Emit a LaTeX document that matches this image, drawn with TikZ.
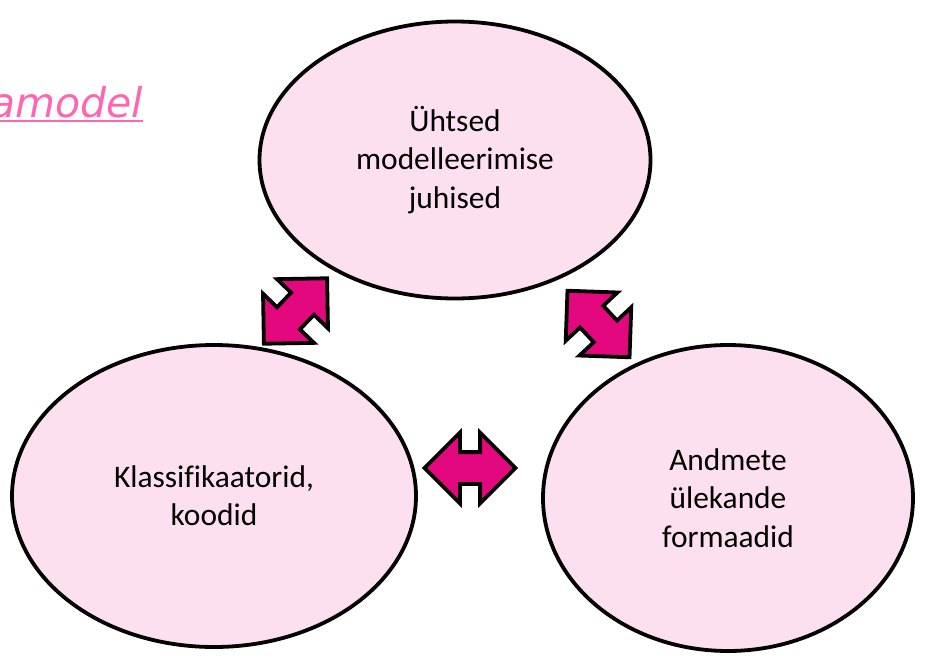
\documentclass[tikz,border=0pt]{standalone}
\usepackage{fontspec}
\setmainfont[Ligatures=NoCommon]{Carlito}
\newfontfamily\linkfont{DejaVu Sans}
\usetikzlibrary{shapes.geometric,shapes.arrows}
\definecolor{ovalpink}{HTML}{FDE0EF}
\definecolor{arrowpink}{HTML}{E4087F}
\definecolor{linkpink}{HTML}{FF66B2}

\begin{document}
\begin{tikzpicture}[x=1pt, y=-1pt,
		oval/.style={draw, ellipse, line width=3.8pt, fill=ovalpink, inner sep=0pt, align=center, font=\fontsize{31.4}{38.3}\selectfont},
		link/.style={double arrow, draw, line width=3.8pt, fill=arrowpink, inner xsep=0pt, inner ysep=14pt, double arrow head extend=19.5pt, minimum height=91pt},
		]
	\useasboundingbox (0,0) rectangle (927,659);
	% heading, cut at the left edge
	\node [anchor=base east, inner sep=0pt, text=linkpink, font=\linkfont\itshape\fontsize{41}{44}\selectfont] (heading) at (143,117) {amodel};
	\draw [linkpink, line width=2.5pt] ([yshift=-4pt]heading.base west) -- ([yshift=-4pt]heading.base east);
	% the three parts
	\node [oval, minimum width=391pt, minimum height=277pt] (rules) at (455,160) {Ühtsed\\modelleerimise\\juhised};
	\node [oval, minimum width=404pt, minimum height=302pt] (codes) at (214,496) {Klassifikaatorid,\\koodid};
	\node [oval, minimum width=370pt, minimum height=306pt] (formats) at (728,498) {Andmete\\ülekande\\formaadid};
	% links between them
	\node [link, rotate=46] (rules-codes) at (295.5,311) {};
	\node [link, rotate=-47] (rules-formats) at (598.5,324) {};
	\node [link] (codes-formats) at (470,468) {};
\end{tikzpicture}
\end{document}
